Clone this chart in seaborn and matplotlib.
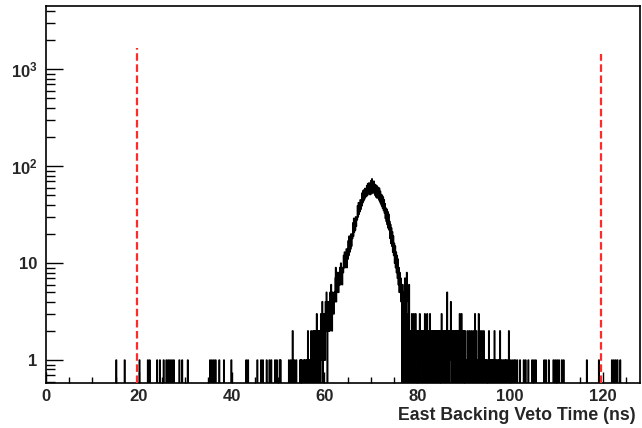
import numpy as np
import pandas as pd
import matplotlib
matplotlib.use("Agg")
import matplotlib.pyplot as plt
import seaborn as sns
from matplotlib.ticker import (FixedLocator, FixedFormatter, MultipleLocator,
                               LogLocator, NullFormatter)

# ---------------- data ----------------
bin_width = 0.1          # ns
x_max = 128.0            # ns

# sparse single entries outside the core (ns) and their counts
left_tail_times = [15.1, 16.9, 20.1, 21.9, 22.3, 23.9, 24.5, 25.3, 25.9, 26.3,
                   26.7, 27.1, 27.5, 28.7, 29.3, 30.5, 35.3, 35.7, 36.1, 36.5,
                   37.3, 38.3, 39.9, 43.1, 43.5, 45.5, 46.3, 46.7, 47.5, 48.1,
                   48.5, 49.3, 49.7, 50.3, 50.5, 52.3, 52.7, 53.1, 53.5, 53.9,
                   54.7, 54.9, 55.1, 55.5, 55.7]
left_tail_counts = [1, 1, 1, 1, 1, 1, 1, 1, 1, 1,
                    1, 1, 1, 1, 1, 1, 1, 1, 1, 1,
                    1, 1, 1, 1, 1, 1, 1, 1, 1, 1,
                    1, 1, 1, 1, 1, 1, 1, 2, 1, 1,
                    1, 1, 1, 1, 1]
right_tail_times = [101.1, 101.5, 102.1, 102.9, 103.3, 103.9, 104.7, 105.1,
                    105.5, 107.3, 107.7, 108.3, 109.3, 109.7, 110.1, 110.5,
                    111.1, 111.5, 116.5, 119.1, 121.9, 122.3, 122.7, 123.1,
                    123.7]
right_tail_counts = [1] * len(right_tail_times)

# dense core: counts in consecutive 0.1 ns bins starting at 56.0 ns
core_start = 56.0
core_counts = [
    1, 0, 1, 0, 2, 1, 0, 1, 0, 1,            # 56
    0, 2, 1, 0, 1, 2, 0, 1, 2, 0,            # 57
    2, 0, 1, 3, 0, 2, 1, 0, 2, 1,            # 58
    2, 0, 3, 2, 1, 4, 0, 2, 3, 1,            # 59
    3, 1, 4, 2, 5, 3, 0, 4, 3, 2,            # 60
    4, 2, 5, 3, 6, 3, 2, 5, 4, 3,            # 61
    3, 5, 4, 7, 9, 4, 6, 5, 8, 5,            # 62
    5, 8, 6, 9, 6, 10, 7, 8, 6, 9,           # 63
    8, 12, 9, 13, 9, 12, 10, 14, 9, 12,      # 64
    11, 17, 12, 19, 13, 18, 14, 20, 15, 19,  # 65
    18, 26, 19, 29, 21, 28, 22, 30, 24, 29,  # 66
    28, 39, 30, 42, 32, 41, 34, 45, 36, 43,  # 67
    39, 53, 42, 56, 44, 57, 46, 59, 48, 58,  # 68
    49, 63, 50, 66, 52, 67, 53, 64, 51, 68,  # 69
    71, 52, 74, 55, 68, 53, 70, 54, 65, 50,  # 70
    64, 48, 63, 47, 61, 48, 60, 45, 59, 43,  # 71
    55, 41, 51, 39, 50, 37, 48, 35, 45, 33,  # 72
    41, 29, 37, 27, 36, 25, 34, 23, 32, 22,  # 73
    27, 18, 25, 16, 23, 15, 21, 13, 19, 12,  # 74
    16, 10, 15, 9, 13, 8, 12, 7, 11, 6,      # 75
    9, 5, 8, 5, 7, 4, 6, 0, 6, 3,            # 76
    5, 0, 4, 7, 2, 0, 4, 8, 0, 2,            # 77
    3, 0, 6, 1, 0, 2, 1, 0, 3, 1,            # 78
    2, 0, 3, 1, 0, 2, 3, 0, 2, 1,            # 79
    2, 0, 2, 1, 0, 3, 2, 0, 1, 2,            # 80
    1, 2, 0, 1, 2, 0, 3, 2, 0, 2,            # 81
    2, 3, 0, 2, 1, 0, 2, 3, 0, 1,            # 82
    2, 0, 2, 1, 0, 2, 1, 2, 0, 2,            # 83
    1, 2, 0, 2, 1, 0, 2, 1, 2, 0,            # 84
    2, 0, 3, 2, 0, 1, 2, 0, 2, 1,            # 85
    2, 0, 2, 1, 5, 0, 1, 2, 0, 2,            # 86
    1, 2, 4, 0, 2, 1, 0, 2, 1, 2,            # 87
    2, 0, 1, 2, 0, 2, 1, 0, 2, 1,            # 88
    0, 3, 1, 0, 2, 3, 0, 1, 2, 0,            # 89
    2, 0, 1, 2, 0, 1, 1, 0, 2, 1,            # 90
    1, 0, 2, 1, 0, 1, 2, 0, 1, 0,            # 91
    2, 1, 0, 1, 3, 0, 1, 2, 0, 1,            # 92
    1, 0, 3, 1, 0, 2, 1, 0, 1, 2,            # 93
    1, 0, 1, 2, 0, 1, 0, 1, 0, 1,            # 94
    1, 0, 0, 1, 2, 0, 1, 0, 1, 0,            # 95
    1, 0, 1, 0, 1, 0, 2, 0, 1, 0,            # 96
    1, 0, 0, 1, 0, 1, 0, 0, 2, 0,            # 97
    1, 0, 0, 1, 0, 0, 1, 0, 0, 1,            # 98
    0, 1, 0, 0, 1, 0, 0, 2, 0, 0,            # 99
    1, 0, 0, 0, 1, 0, 0, 0, 1, 0,            # 100
]

# cut lines (red dashed)
cut_times = [19.7, 119.7]
cut_tops = [1650, 1450]

x_major_ticks = [0, 20, 40, 60, 80, 100, 120]
y_major_ticks = [1, 10, 100, 1000]
y_tick_labels = ["1", "10", r"$\mathbf{10^{2}}$", r"$\mathbf{10^{3}}$"]
x_label = "East Backing Veto Time (ns)"

# ---------------- build table ----------------
core_times = core_start + bin_width * (np.arange(len(core_counts)) + 0.5)
times = np.concatenate([left_tail_times, core_times, right_tail_times])
counts = np.concatenate([left_tail_counts, core_counts, right_tail_counts]).astype(float)
df = pd.DataFrame({"time": times, "count": counts})
n_bins = int(round(x_max / bin_width))
edges = [round(i * bin_width, 4) for i in range(n_bins + 1)]

# ---------------- style ----------------
sns.set_style("ticks")
plt.rcParams["font.family"] = ["Liberation Sans", "DejaVu Sans"]
plt.rcParams["mathtext.fontset"] = "custom"
plt.rcParams["mathtext.rm"] = "Liberation Sans"
plt.rcParams["mathtext.bf"] = "Liberation Sans:bold"
plt.rcParams["mathtext.it"] = "Liberation Sans:italic"

fig = plt.figure(figsize=(6.42, 4.28), dpi=100)
fig.patch.set_facecolor("white")
ax = fig.add_axes([46 / 642, 45 / 428, 594 / 642, 377 / 428])
ax.set_facecolor("white")

sns.histplot(data=df, x="time", weights="count", bins=edges,
             element="step", fill=False, color="black", linewidth=1.1, ax=ax)

ax.set_yscale("log")
ax.set_xlim(0, x_max)
ax.set_ylim(0.58, 4500)

for xc, top in zip(cut_times, cut_tops):
    ax.plot([xc, xc], [0.58, top], color="#ff2a2a", lw=1.6,
            ls=(0, (3.4, 1.6)), zorder=5)

# ticks
ax.xaxis.set_major_locator(FixedLocator(x_major_ticks))
ax.xaxis.set_minor_locator(MultipleLocator(5))
ax.yaxis.set_major_locator(FixedLocator(y_major_ticks))
ax.yaxis.set_major_formatter(FixedFormatter(y_tick_labels))
ax.yaxis.set_minor_locator(LogLocator(base=10, subs=np.arange(2, 10), numticks=30))
ax.yaxis.set_minor_formatter(NullFormatter())

ax.tick_params(axis="x", which="major", direction="in", length=8, width=1,
               top=False, bottom=True, labelsize=12, pad=4, color="black")
ax.tick_params(axis="x", which="minor", direction="in", length=4, width=1,
               top=False, bottom=True, color="black")
ax.tick_params(axis="y", which="major", direction="in", length=12, width=1,
               left=True, right=False, labelsize=12, pad=6, color="black")
ax.tick_params(axis="y", which="minor", direction="in", length=6.5, width=1,
               left=True, right=False, color="black")
for lbl in ax.get_xticklabels() + ax.get_yticklabels():
    lbl.set_fontweight("bold")

for sp in ax.spines.values():
    sp.set_visible(True)
    sp.set_color("black")
    sp.set_linewidth(1.2)

ax.set_ylabel("")
ax.set_xlabel(x_label, fontsize=12.8, fontweight="bold", loc="right")
ax.xaxis.label.set_va("center")
ax.xaxis.set_label_coords((636 - 46) / 594, (383 - 415) / 377)

fig.savefig("out.png", dpi=100, facecolor="white")
